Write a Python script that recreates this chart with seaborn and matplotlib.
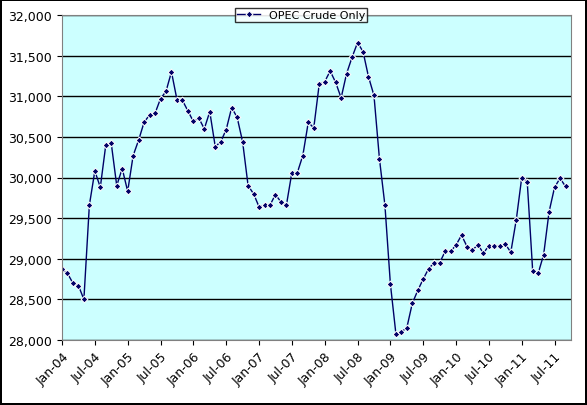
import pandas as pd
import matplotlib.pyplot as plt
import matplotlib.ticker as mticker
import seaborn as sns

# monthly OPEC crude production, Jan-04 .. Sep-11 (thousand b/d)
production = [
    28870, 28820, 28700, 28670, 28500, 29660, 30080, 29880, 30400, 30420, 29900, 30110,
    29830, 30270, 30460, 30680, 30770, 30790, 30970, 31060, 31300, 30960, 30950, 30820,
    30690, 30730, 30600, 30810, 30380, 30440, 30590, 30860, 30740, 30440, 29900, 29800,
    29640, 29660, 29660, 29790, 29700, 29660, 30060, 30060, 30270, 30680, 30610, 31150,
    31180, 31310, 31170, 30980, 31280, 31480, 31660, 31550, 31240, 31010, 30230, 29660,
    28690, 28080, 28100, 28150, 28450, 28610, 28750, 28880, 28950, 28950, 29090, 29090,
    29170, 29290, 29150, 29110, 29170, 29070, 29160, 29160, 29160, 29180, 29080, 29480,
    30000, 29950, 28850, 28820, 29050, 29580, 29880, 29990, 29890,
]
tick_labels = ["Jan-04", "Jul-04", "Jan-05", "Jul-05", "Jan-06", "Jul-06", "Jan-07", "Jul-07",
               "Jan-08", "Jul-08", "Jan-09", "Jul-09", "Jan-10", "Jul-10", "Jan-11", "Jul-11"]

df = pd.DataFrame({"month": range(len(production)), "OPEC Crude Only": production})

fig = plt.figure(figsize=(5.87, 4.06), dpi=100)
fig.patch.set_edgecolor("black")
fig.patch.set_linewidth(1.5)
ax = fig.add_axes([62 / 587, 1 - 341 / 406, 509 / 587, 325 / 406])
ax.set_facecolor("#CCFFFF")

sns.lineplot(data=df, x="month", y="OPEC Crude Only", ax=ax, color="#000066",
             marker="D", markersize=3.5, linewidth=1, label="OPEC Crude Only")

ax.set_xlim(0, 93)
ax.set_ylim(28000, 32000)
ax.set_xticks(range(0, 6 * len(tick_labels), 6))
ax.set_xticklabels(tick_labels, rotation=45, ha="right", rotation_mode="anchor", fontsize=9)
ax.yaxis.set_major_locator(mticker.MultipleLocator(500))
ax.yaxis.set_major_formatter(mticker.StrMethodFormatter("{x:,.0f}"))
ax.tick_params(axis="y", labelsize=9)
ax.grid(axis="y", color="black", linewidth=1)
ax.set_axisbelow(True)
ax.set_xlabel("")
ax.set_ylabel("")
for s in ax.spines.values():
    s.set_color("gray")

leg = ax.legend(loc="upper center", bbox_to_anchor=(0.47, 1.04), frameon=True,
                fancybox=False, edgecolor="black", fontsize=8, borderpad=0.2,
                handlelength=2)
leg.get_frame().set_linewidth(1)

fig.savefig("out.png", dpi=100, edgecolor=fig.get_edgecolor())
